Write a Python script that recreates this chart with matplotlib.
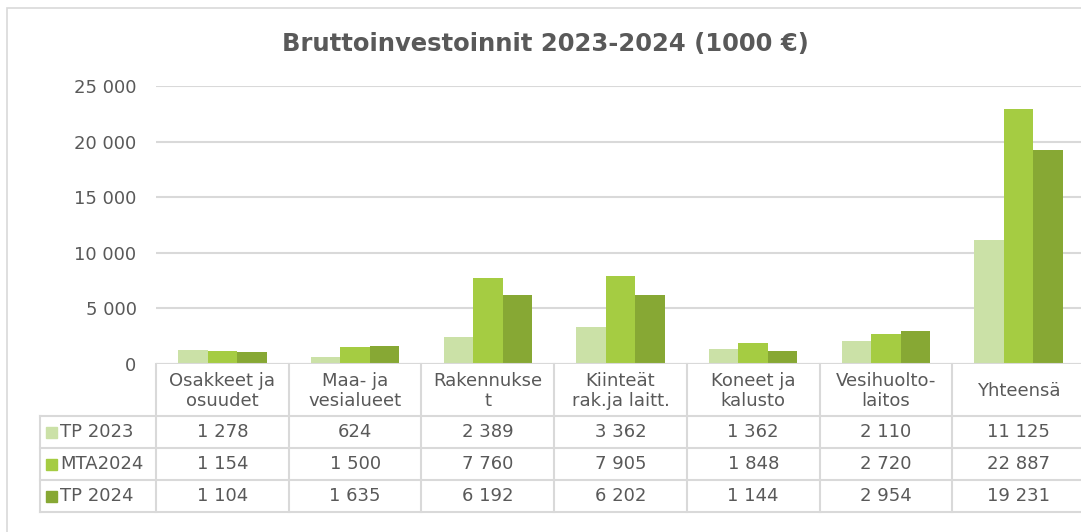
import matplotlib
matplotlib.use("Agg")
import matplotlib.pyplot as plt
import matplotlib.transforms as mtrans
from matplotlib.patches import Rectangle
import numpy as np

categories = ["Osakkeet ja\nosuudet", "Maa- ja\nvesialueet", "Rakennukse\nt",
              "Kiinteät\nrak.ja laitt.", "Koneet ja\nkalusto", "Vesihuolto-\nlaitos",
              "Yhteensä"]
series_names = ["TP 2023", "MTA2024", "TP 2024"]
tp2023 = [1278, 624, 2389, 3362, 1362, 2110, 11125]
mta2024 = [1154, 1500, 7760, 7905, 1848, 2720, 22887]
tp2024 = [1104, 1635, 6192, 6202, 1144, 2954, 19231]
colors = ["#CBE1A7", "#A5CC42", "#87A834"]
yticks = [0, 5000, 10000, 15000, 20000, 25000]

W, H = 1081, 532
txt = "#595959"
grid = "#D9D9D9"
fs = 13

fig = plt.figure(figsize=(W / 100, H / 100), dpi=100)

def fy(py):
    return 1 - py / H

def fx(px):
    return px / W

# outer chart border (right and bottom edges fall outside the picture)
fig.patches.append(Rectangle((fx(7), fy(560)), 2, fy(8) - fy(560), transform=fig.transFigure,
                             fill=False, edgecolor=grid, lw=1.2))

x0, x1 = 156, 1085
ytop, ybot = 86, 364
ax = fig.add_axes([fx(x0), fy(ybot), (x1 - x0) / W, (ybot - ytop) / H])
ax.set_xlim(-0.5, 6.5)
ax.set_ylim(0, 25000)

x = np.arange(len(categories))
bw = 2 / 9
for i, (vals, c) in enumerate(zip([tp2023, mta2024, tp2024], colors)):
    ax.bar(x + (i - 1) * bw, vals, bw, color=c, edgecolor="none", zorder=3)

ax.set_yticks(yticks)
ax.set_yticklabels([f"{v:,}".replace(",", " ") for v in yticks], color=txt, fontsize=fs)
ax.tick_params(axis="y", length=0, pad=14)
ax.set_xticks([])
ax.grid(axis="y", color=grid, lw=1.5, zorder=0)
for s in ax.spines.values():
    s.set_visible(False)
ax.axhline(0, color=grid, lw=1.5, zorder=4)

fig.text(fx(545), fy(44.5), "Bruttoinvestoinnit 2023-2024 (1000 €)", fontsize=17.5,
         fontweight="bold", color=txt, ha="center", va="center")

# data table below the axis
bt = mtrans.blended_transform_factory(ax.transData, fig.transFigure)
rows_y = [416, 448, 480, 512]
for b in np.arange(len(categories) + 1) - 0.5:
    ax.plot([b, b], [fy(ybot), fy(512)], transform=bt, color=grid, lw=1.5, clip_on=False)
for ry in rows_y:
    fig.add_artist(plt.Line2D([fx(40), fx(W + 5)], [fy(ry), fy(ry)], color=grid, lw=1.5))
fig.add_artist(plt.Line2D([fx(40), fx(40)], [fy(416), fy(512)], color=grid, lw=1.5))

for i, c in enumerate(categories):
    ax.text(i, fy(391), c, transform=bt, ha="center", va="center", fontsize=fs,
            color=txt, linespacing=1.2)

for r, (name, vals, c) in enumerate(zip(series_names, [tp2023, mta2024, tp2024], colors)):
    cy = (rows_y[r] + rows_y[r + 1]) / 2
    fig.patches.append(Rectangle((fx(46), fy(cy + 5.5)), 11 / W, 11 / H,
                                 transform=fig.transFigure, color=c))
    fig.text(fx(60), fy(cy), name, ha="left", va="center", fontsize=fs, color=txt)
    for i, v in enumerate(vals):
        ax.text(i, fy(cy), f"{v:,}".replace(",", " "), transform=bt, ha="center",
                va="center", fontsize=fs, color=txt)

fig.savefig("out.png", dpi=100)
